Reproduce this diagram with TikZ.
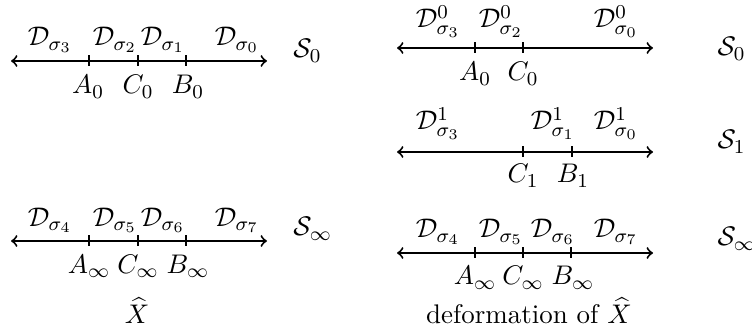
\documentclass[tikz,border=0pt]{standalone}
\usetikzlibrary{calc}
\begin{document}
\begin{tikzpicture}[x=0.4065pt,y=-0.4065pt,
  every node/.style={font=\fontsize{10.95}{13.6}\selectfont},
  axis/.style={thick,<->},
  tickmark/.style={thick},
  lab/.style={anchor=base,inner sep=0pt},
  slab/.style={anchor=base west,inner sep=0pt}]
\useasboundingbox (0,0) rectangle (752,330);

% ---------- left top: S_0 ----------
\coordinate (LTl) at (11,61);
\coordinate (LTr) at (267,61);
\draw[axis] (LTl) -- (LTr);
\coordinate (LTA) at (89,61);
\coordinate (LTC) at (138,61);
\coordinate (LTB) at (186,61);
\foreach \p in {LTA,LTC,LTB} \draw[tickmark] ($(\p)+(0,-5.5)$) -- ($(\p)+(0,5.5)$);
\node[lab] (ltd3) at (50,46) {$\mathcal{D}_{\sigma_3}$};
\node[lab] (ltd2) at (115,46) {$\mathcal{D}_{\sigma_2}$};
\node[lab] (ltd1) at (163,46) {$\mathcal{D}_{\sigma_1}$};
\node[lab] (ltd0) at (237,46) {$\mathcal{D}_{\sigma_0}$};
\node[lab] (ltAl) at (88,94) {$A_0$};
\node[lab] (ltCl) at (138,94) {$C_0$};
\node[lab] (ltBl) at (188,94) {$B_0$};
\node[slab] (ltS) at (293,58) {$\mathcal{S}_0$};

% ---------- left bottom: S_infty ----------
\coordinate (LBl) at (11,241);
\coordinate (LBr) at (267,241);
\draw[axis] (LBl) -- (LBr);
\coordinate (LBA) at (89,241);
\coordinate (LBC) at (138,241);
\coordinate (LBB) at (186,241);
\foreach \p in {LBA,LBC,LBB} \draw[tickmark] ($(\p)+(0,-5.5)$) -- ($(\p)+(0,5.5)$);
\node[lab] (lbd4) at (50,226) {$\mathcal{D}_{\sigma_4}$};
\node[lab] (lbd5) at (115,226) {$\mathcal{D}_{\sigma_5}$};
\node[lab] (lbd6) at (163,226) {$\mathcal{D}_{\sigma_6}$};
\node[lab] (lbd7) at (237,226) {$\mathcal{D}_{\sigma_7}$};
\node[lab] (lbAl) at (89,273) {$A_\infty$};
\node[lab] (lbCl) at (138,273) {$C_\infty$};
\node[lab] (lbBl) at (188,273) {$B_\infty$};
\node[slab] (lbS) at (293,236) {$\mathcal{S}_\infty$};
\node[lab] (xhat) at (137,323) {$\widehat{X}$};

% ---------- right top: S_0 ----------
\coordinate (RTl) at (397,48);
\coordinate (RTr) at (653,48);
\draw[axis] (RTl) -- (RTr);
\coordinate (RTA) at (475,48);
\coordinate (RTC) at (523,48);
\foreach \p in {RTA,RTC} \draw[tickmark] ($(\p)+(0,-5.5)$) -- ($(\p)+(0,5.5)$);
\node[lab] (rtd3) at (438,28) {$\mathcal{D}^0_{\sigma_3}$};
\node[lab] (rtd2) at (501,28) {$\mathcal{D}^0_{\sigma_2}$};
\node[lab] (rtd0) at (616,28) {$\mathcal{D}^0_{\sigma_0}$};
\node[lab] (rtAl) at (475,81) {$A_0$};
\node[lab] (rtCl) at (523,81) {$C_0$};
\node[slab] (rtS) at (717,56) {$\mathcal{S}_0$};

% ---------- right middle: S_1 ----------
\coordinate (RMl) at (397,152);
\coordinate (RMr) at (653,152);
\draw[axis] (RMl) -- (RMr);
\coordinate (RMC) at (523,152);
\coordinate (RMB) at (572,152);
\foreach \p in {RMC,RMB} \draw[tickmark] ($(\p)+(0,-5.5)$) -- ($(\p)+(0,5.5)$);
\node[lab] (rmd3) at (438,130) {$\mathcal{D}^1_{\sigma_3}$};
\node[lab] (rmd1) at (553,130) {$\mathcal{D}^1_{\sigma_1}$};
\node[lab] (rmd0) at (616,130) {$\mathcal{D}^1_{\sigma_0}$};
\node[lab] (rmCl) at (523,183) {$C_1$};
\node[lab] (rmBl) at (573,183) {$B_1$};
\node[slab] (rmS) at (717,149) {$\mathcal{S}_1$};

% ---------- right bottom: S_infty ----------
\coordinate (RBl) at (397,253);
\coordinate (RBr) at (653,253);
\draw[axis] (RBl) -- (RBr);
\coordinate (RBA) at (475,253);
\coordinate (RBC) at (523,253);
\coordinate (RBB) at (571,253);
\foreach \p in {RBA,RBC,RBB} \draw[tickmark] ($(\p)+(0,-5.5)$) -- ($(\p)+(0,5.5)$);
\node[lab] (rbd4) at (438,238) {$\mathcal{D}_{\sigma_4}$};
\node[lab] (rbd5) at (501,238) {$\mathcal{D}_{\sigma_5}$};
\node[lab] (rbd6) at (553,238) {$\mathcal{D}_{\sigma_6}$};
\node[lab] (rbd7) at (616,238) {$\mathcal{D}_{\sigma_7}$};
\node[lab] (rbAl) at (475,285) {$A_\infty$};
\node[lab] (rbCl) at (523,285) {$C_\infty$};
\node[lab] (rbBl) at (573,285) {$B_\infty$};
\node[slab] (rbS) at (717,246) {$\mathcal{S}_\infty$};
\node[lab] (deform) at (529,323) {deformation of $\widehat{X}$};
\end{tikzpicture}
\end{document}
